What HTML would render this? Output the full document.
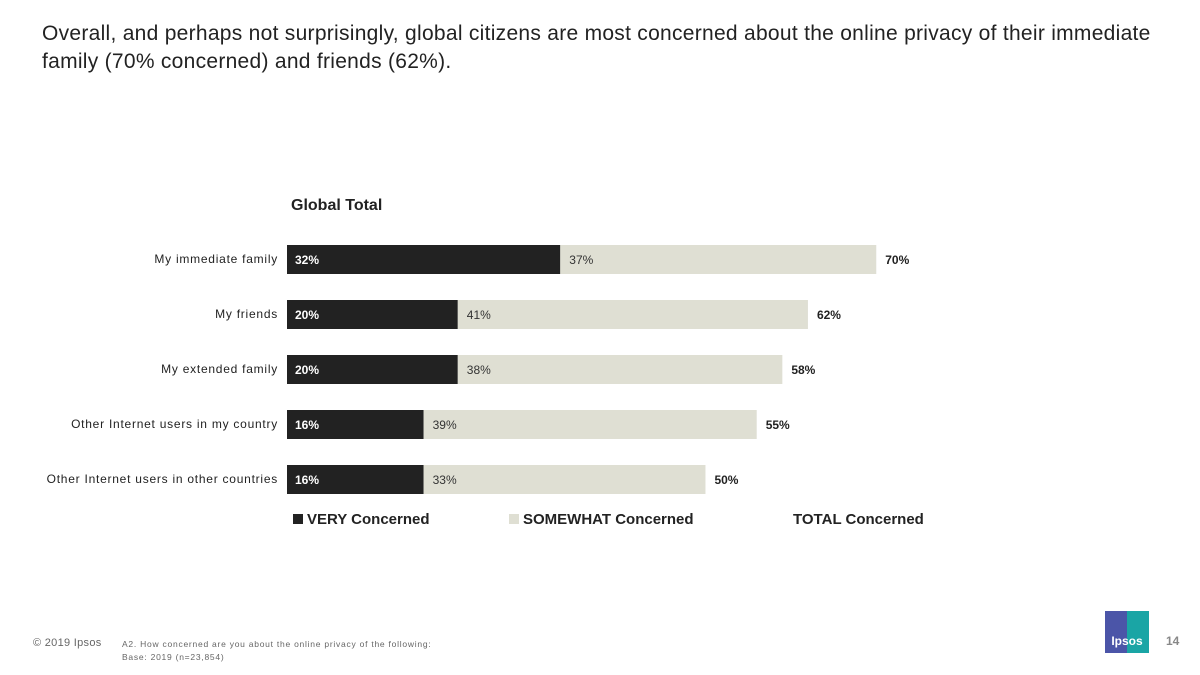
<!DOCTYPE html>
<html><head><meta charset="utf-8"><style>
body{margin:0;width:1200px;height:675px;background:#fff;position:relative;overflow:hidden;font-family:"Liberation Sans",sans-serif}
#title{position:absolute;left:42px;top:20px;width:1140px;font-size:21px;line-height:28px;color:#222;letter-spacing:0.28px}
.foot{position:absolute;color:#666;font-size:11px}
</style></head><body>
<div id="title">Overall, and perhaps not surprisingly, global citizens are most concerned about the online privacy of their immediate family (70% concerned) and friends (62%).</div>
<svg id="chart" width="1200" height="675" style="position:absolute;left:0;top:0" font-family="Liberation Sans, sans-serif"></svg>
<div class="foot" style="left:33px;top:637px;font-size:11px;letter-spacing:0.3px">© 2019 Ipsos</div>
<div class="foot" style="left:122px;top:638px;font-size:8.5px;line-height:13px;letter-spacing:0.75px">A2. How concerned are you about the online privacy of the following:<br>Base: 2019 (n=23,854)</div>
<div style="position:absolute;left:1105px;top:611px;width:44px;height:42px;background:linear-gradient(90deg,#4b55a8 50%,#1aa5a5 50%);color:#fff;font-size:12px;font-weight:bold;text-align:center;line-height:60px">Ipsos</div>
<div class="foot" style="left:1166px;top:634px;font-size:12px;font-weight:bold;color:#888">14</div>
<script>
const categories=["My immediate family","My friends","My extended family","Other Internet users in my country","Other Internet users in other countries"];
const veryValues=[32,20,20,16,16];
const somewhatValues=[37,41,38,39,33];
const totalValues=[70,62,58,55,50];
const svg=document.getElementById('chart');
const NS='http://www.w3.org/2000/svg';
const x0=287, pxPer=8.54;
const xs=v=>x0+v*pxPer;
const ys=i=>245+i*55;
const bh=29;
function mk(t,a,txt){const e=document.createElementNS(NS,t);for(const k in a)e.setAttribute(k,a[k]);if(txt!==undefined)e.textContent=txt;svg.appendChild(e);return e;}
let e=mk('text',{x:291,y:210,'font-size':16,'font-weight':'bold',fill:'#222'},'Global Total');


categories.forEach((c,i)=>{
  const y=ys(i);
  let l=mk('text',{x:278,y:y+18,'font-size':12,'text-anchor':'end',fill:'#222','letter-spacing':'0.75'},c);
  
  
  let r1=mk('rect',{x:xs(0),y:y,width:xs(veryValues[i])-xs(0),height:bh,fill:'#222222'});
  
  
  let r2=mk('rect',{x:xs(veryValues[i]),y:y,width:xs(veryValues[i]+somewhatValues[i])-xs(veryValues[i]),height:bh,fill:'#dfdfd3'});
  
  
  let t1=mk('text',{x:xs(0)+8,y:y+19,'font-size':12,'font-weight':'bold',fill:'#fff'},veryValues[i]+'%');
  
  
  let t2=mk('text',{x:xs(veryValues[i])+9,y:y+19,'font-size':12,fill:'#333'},somewhatValues[i]+'%');
  
  
  let t3=mk('text',{x:xs(veryValues[i]+somewhatValues[i])+9,y:y+19,'font-size':12,'font-weight':'bold',fill:'#222'},totalValues[i]+'%');
  
  
});
const legend=[["VERY Concerned","#222222",293],["SOMEWHAT Concerned","#dfdfd3",509],["TOTAL Concerned",null,793]];
legend.forEach(([t,c,x])=>{
  if(c){let s=mk('rect',{x:x,y:514,width:10,height:10,fill:c});
  
  }
  let lt=mk('text',{x:c?x+14:x,y:524,'font-size':15,'font-weight':'bold',fill:'#222'},t);
  
  
});
</script>
</body></html>
